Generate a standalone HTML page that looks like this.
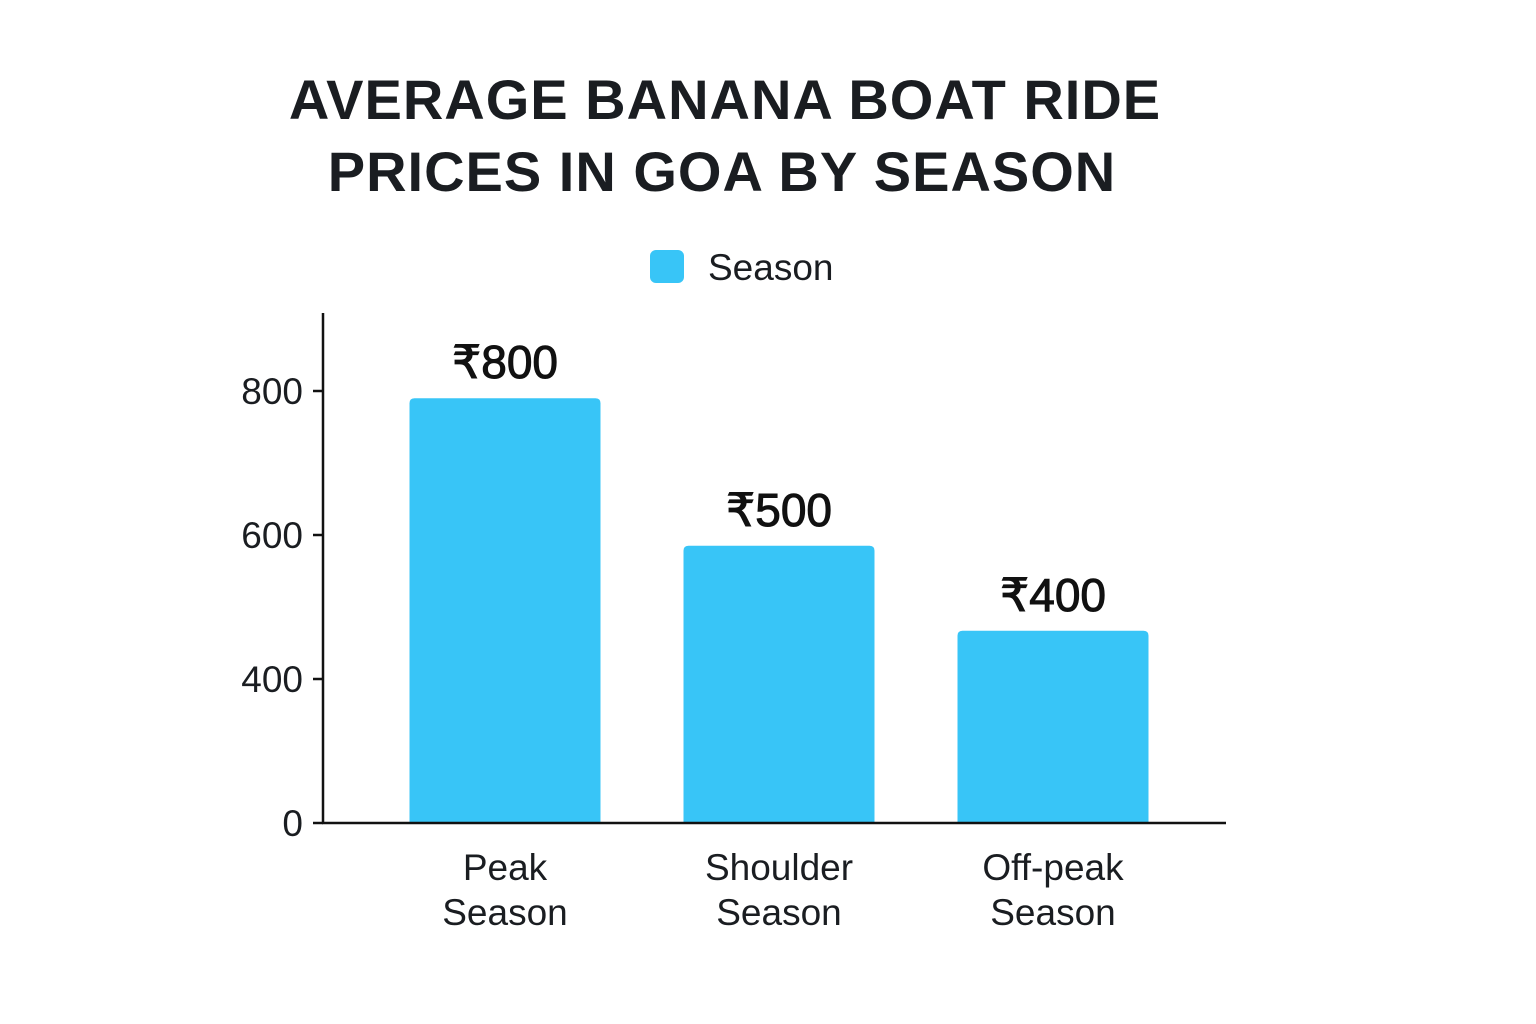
<!DOCTYPE html>
<html><head><meta charset="utf-8"><style>
html,body{margin:0;padding:0;background:#fff;}
svg{display:block;font-family:"Liberation Sans","DejaVu Sans",sans-serif;}
</style></head><body>
<svg id="chart" width="1536" height="1024" viewBox="0 0 1536 1024">
<text x="725" y="119" text-anchor="middle" font-size="56" font-weight="bold" letter-spacing="1" fill="#1a1d21">AVERAGE BANANA BOAT RIDE</text>
<text x="722" y="191" text-anchor="middle" font-size="56" font-weight="bold" letter-spacing="1" fill="#1a1d21">PRICES IN GOA BY SEASON</text>
<g>
<rect x="650" y="250" width="34" height="33" rx="6" fill="#38c5f7"/>
<text x="708" y="280" font-size="37" fill="#1a1d21">Season</text>
</g>
<g id="plot"></g>
</svg>
<script>
const categories = [["Peak","Season"],["Shoulder","Season"],["Off-peak","Season"]];
const values = [790, 585, 467];
const valueLabels = ["₹800","₹500","₹400"];
const tickValues = [0, 400, 600, 800];

const NS = "http://www.w3.org/2000/svg";
const plot = document.getElementById("plot");
const x0 = 323, x1 = 1226, yBase = 823, tickStep = 144;
function yScale(v){
  for (let i = 0; i < tickValues.length - 1; i++){
    const a = tickValues[i], b = tickValues[i+1];
    if (v <= b || i === tickValues.length - 2){
      return yBase - (i + (v - a) / (b - a)) * tickStep;
    }
  }
}
const barW = 191;
function xCenter(i){ return x0 + 182 + i * 274; }
function mk(tag, attrs, text){
  const e = document.createElementNS(NS, tag);
  for (const k in attrs) e.setAttribute(k, attrs[k]);
  if (text !== undefined) e.textContent = text;
  plot.appendChild(e);
  return e;
}
tickValues.forEach((t, i) => {
  const y = yScale(t);
  const tk = mk("line", {x1: x0 - 10, x2: x0, y1: y, y2: y, stroke: "#111", "stroke-width": 2.5});
  
  
  const lb = mk("text", {x: 303, y: y + 13, "text-anchor": "end", "font-size": 37, fill: "#1a1d21"}, String(t));
  
  
});
values.forEach((v, i) => {
  const cx = xCenter(i), top = yScale(v), r = 5;
  const left = cx - barW / 2, right = cx + barW / 2;
  const p = mk("path", {d: `M${left},${yBase} L${left},${top + r} Q${left},${top} ${left + r},${top} L${right - r},${top} Q${right},${top} ${right},${top + r} L${right},${yBase} Z`, fill: "#38c5f7"});
  
  
  const vl = mk("text", {x: cx, y: top - 20, "text-anchor": "middle", "font-size": 46, fill: "#111", stroke: "#111", "stroke-width": 1}, valueLabels[i]);
  
  
  categories[i].forEach((line, j) => {
    const cl = mk("text", {x: cx, y: 880 + j * 45, "text-anchor": "middle", "font-size": 37, fill: "#1a1d21"}, line);
    
    
  });
});
const ya = mk("line", {x1: x0, x2: x0, y1: 313, y2: yBase + 1, stroke: "#111", "stroke-width": 2.5});


const xa = mk("line", {x1: x0 - 1, x2: x1, y1: yBase, y2: yBase, stroke: "#111", "stroke-width": 2.5});


</script>
</body></html>
